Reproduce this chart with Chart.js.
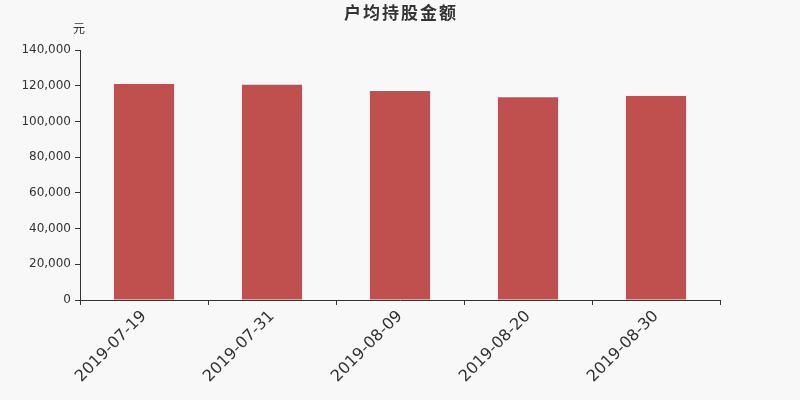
<!DOCTYPE html>
<html>
<head>
<meta charset="utf-8">
<script src="https://cdn.jsdelivr.net/npm/chart.js@4"></script>
<style>
  html, body { margin: 0; padding: 0; background: #f8f8f8; }
  #wrap { width: 800px; height: 400px; }
</style>
</head>
<body>
<div id="wrap"><canvas id="holdChart"></canvas></div>
<script>
// data
const dates = ['2019-07-19', '2019-07-31', '2019-08-09', '2019-08-20', '2019-08-30'];
const avgHolding = [121000, 120600, 117000, 113600, 114200];
const chartTitle = '户均持股金额';
const unitLabel = '元';

const textColor = '#333333';
const fontFamily = '"DejaVu Sans", "Noto Sans CJK SC", sans-serif';

// title centred on the whole canvas, plus the unit label above the y axis
const headerPlugin = {
    id: 'header',
    afterDraw(chart) {
        const ctx = chart.ctx;
        const yScale = chart.scales.y;
        ctx.save();
        ctx.fillStyle = textColor;
        ctx.textAlign = 'center';
        ctx.textBaseline = 'middle';
        ctx.font = 'bold 17px "Noto Sans CJK SC", sans-serif';
        if ('letterSpacing' in ctx) ctx.letterSpacing = '2px';
        ctx.fillText(chartTitle, chart.width / 2 + 1, 13);
        if ('letterSpacing' in ctx) ctx.letterSpacing = '0px';
        ctx.font = '12px "Noto Sans CJK SC", sans-serif';
        ctx.fillText(unitLabel, yScale.right - 1, 28);
        ctx.restore();
    }
};

const ctx = document.getElementById('holdChart').getContext('2d');
const holdChart = new Chart(ctx, {
    type: 'bar',
    data: {
        labels: dates,
        datasets: [{
            label: chartTitle,
            data: avgHolding,
            backgroundColor: '#c0504d',
            borderWidth: 0,
            categoryPercentage: 1.0,
            barPercentage: 0.47
        }]
    },
    options: {
        responsive: true,
        maintainAspectRatio: false,
        animation: false,
        layout: {
            padding: { left: 0, right: 80, top: 50, bottom: 0 }
        },
        scales: {
            x: {
                grid: {
                    display: true,
                    offset: true,
                    drawOnChartArea: false,
                    drawTicks: true,
                    tickLength: 5,
                    color: '#333333'
                },
                border: { display: true, color: '#333333', width: 1 },
                ticks: {
                    color: textColor,
                    font: { family: fontFamily, size: 16 },
                    maxRotation: 45,
                    minRotation: 45,
                    padding: 2
                },
                afterFit: (scale) => { scale.height = 100; }
            },
            y: {
                min: 0,
                max: 140000,
                ticks: {
                    stepSize: 20000,
                    color: textColor,
                    font: { family: fontFamily, size: 12 },
                    padding: 4,
                    callback: (value) => value.toLocaleString('en-US')
                },
                grid: {
                    display: true,
                    drawOnChartArea: false,
                    drawTicks: true,
                    tickLength: 5,
                    color: '#333333'
                },
                border: { display: true, color: '#333333', width: 1 },
                afterFit: (scale) => { scale.width = 80; }
            }
        },
        plugins: {
            title: { display: false },
            legend: { display: false },
            tooltip: { enabled: false }
        }
    },
    plugins: [headerPlugin]
});
</script>
</body>
</html>
